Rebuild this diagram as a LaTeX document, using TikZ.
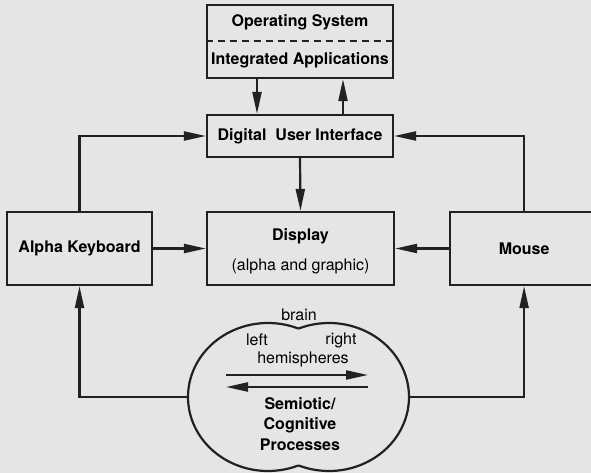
\documentclass[tikz,border=0pt]{standalone}
\usepackage{fontspec}
\setmainfont{TeX Gyre Heros}
\usetikzlibrary{arrows.meta}

\definecolor{ink}{gray}{0.13}
\definecolor{paper}{gray}{0.9}

\tikzset{
  box/.style={draw=ink, line width=2.2pt, inner sep=0pt, font=\fontsize{16}{19}\selectfont\bfseries},
  lbl/.style={inner sep=0pt, font=\fontsize{16}{19}\selectfont},
  blbl/.style={inner sep=0pt, font=\fontsize{16}{19}\selectfont\bfseries},
  link/.style={draw=ink, line width=2.2pt, -{Triangle[length=22pt,width=9pt]}},
}

\begin{document}
\begin{tikzpicture}[x=1pt,y=-1pt]
  \fill[paper] (0,0) rectangle (591,473);
  \useasboundingbox (0,0) rectangle (591,473);

  % boxes
  \node[box, minimum width=186pt, minimum height=73pt] (os) at (300,41.5) {};
  \node[blbl] (oslbl) at (300,22) {Operating System};
  \node[blbl] (applbl) at (300,60) {Integrated Applications};
  \draw[ink, line width=2pt, dash pattern=on 7pt off 5pt] (os.west) -- (os.east);

  \node[box, minimum width=186pt, minimum height=42pt] (dui) at (300,136) {Digital\ \ User Interface};

  \node[box, minimum width=187pt, minimum height=73pt] (display) at (300.5,248.5) {};
  \node[blbl] (displbl) at (300.5,236) {Display};
  \node[lbl] (alphlbl) at (300.5,266) {(alpha and graphic)};

  \node[box, minimum width=145pt, minimum height=73pt] (ak) at (79.5,248.5) {Alpha Keyboard};
  \node[box, minimum width=148pt, minimum height=73pt, anchor=west] (mouse) at (449,248.5) {Mouse};

  % brain
  \draw[ink, line width=2.2pt, line join=round]
    plot[domain=68:292, samples=90] ({268+80*cos(\x)},{397+74*sin(\x)})
    -- plot[domain=-112:112, samples=90] ({329+80*cos(\x)},{397+74*sin(\x)}) -- cycle;
  \coordinate (brainW) at (188,397);
  \coordinate (brainE) at (409,397);
  \node[lbl] (brainlbl) at (299,315) {brain};
  \node[lbl] (leftlbl) at (257,340) {left};
  \node[lbl] (rightlbl) at (341,340) {right};
  \node[lbl] (hemilbl) at (303,359) {hemispheres};
  \node[blbl, align=center, font=\fontsize{16}{20.5}\selectfont\bfseries] (proc) at (300,424) {Semiotic/\\Cognitive\\Processes};
  \coordinate (hemiL) at (226,375);
  \coordinate (hemiR) at (368,375);
  \coordinate (hemiL2) at (226,387);
  \coordinate (hemiR2) at (368,387);

  % connectors
  \draw[link] ([xshift=-43pt]os.south) -- ([xshift=-43pt]dui.north);
  \draw[link] ([xshift=43pt]dui.north) -- ([xshift=43pt]os.south);
  \draw[link] (dui.south) -- (display.north);
  \draw[link] (ak.north) |- (dui.west);
  \draw[link] (mouse.north) |- (dui.east);
  \draw[link] (ak.east) -- (display.west);
  \draw[link] (mouse.west) -- (display.east);
  \draw[link] (brainW) -| (ak.south);
  \draw[link] (brainE) -| (mouse.south);
  \draw[link] (hemiL) -- (hemiR);
  \draw[link] (hemiR2) -- (hemiL2);
\end{tikzpicture}
\end{document}
